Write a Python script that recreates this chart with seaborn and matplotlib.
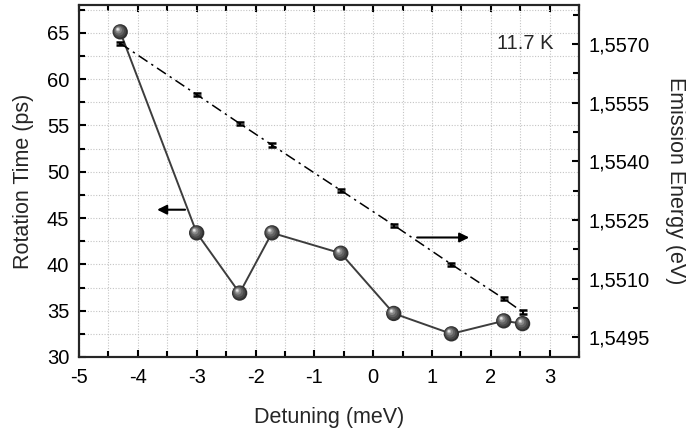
import matplotlib
matplotlib.use("Agg")
import matplotlib.pyplot as plt
import matplotlib.transforms as mtransforms
from matplotlib.ticker import FixedLocator, MultipleLocator, FuncFormatter
import pandas as pd
import seaborn as sns

# Measured quantities versus detuning
detuning = [-4.30, -3.00, -2.27, -1.72, -0.55, 0.35, 1.33, 2.22, 2.54]
rotation_time = [65.1, 43.4, 36.9, 43.4, 41.2, 34.7, 32.5, 33.9, 33.6]
emission_energy = [1.55702, 1.55571, 1.55497, 1.55442, 1.55326,
                   1.55237, 1.55137, 1.55049, 1.55015]
energy_err = [0.00004, 0.00004, 0.00004, 0.00004, 0.00004,
              0.00004, 0.00004, 0.00004, 0.00004]

# Axis ticks
x_ticks = [-5, -4, -3, -2, -1, 0, 1, 2, 3]
time_ticks = [30, 35, 40, 45, 50, 55, 60, 65]
energy_ticks = [1.5495, 1.5510, 1.5525, 1.5540, 1.5555, 1.5570]

df = pd.DataFrame({"detuning": detuning, "time": rotation_time,
                   "energy": emission_energy})

sns.set_theme(style="white")
plt.rcParams["font.family"] = ["Liberation Sans", "DejaVu Sans"]
plt.rcParams["axes.unicode_minus"] = False

fig = plt.figure(figsize=(6.86, 4.30), dpi=100)
ax = fig.add_axes([0.1152, 0.1698, 0.7289, 0.8186])
ax.set_xlim(-5, 3.5)
ax.set_ylim(30, 68)

# dotted grid on every major and minor position
ax.xaxis.set_major_locator(FixedLocator(x_ticks))
ax.xaxis.set_minor_locator(MultipleLocator(0.5))
ax.yaxis.set_major_locator(FixedLocator(time_ticks))
ax.yaxis.set_minor_locator(MultipleLocator(2.5))
ax.grid(True, which="both", color="#c4c4c4", linestyle=(0, (1, 1.5)), linewidth=0.8)
ax.set_axisbelow(True)

# rotation time: solid gray line with shaded spheres
sns.lineplot(data=df, x="detuning", y="time", ax=ax, color="#3d3d3d",
             linewidth=1.4, zorder=3, sort=False)

sphere_layers = [
    (0.0, 0.0, 122, "#303030"),
    (-0.4, 0.4, 82, "#484848"),
    (-0.8, 0.8, 50, "#626262"),
    (-1.2, 1.3, 24, "#868686"),
    (-1.6, 1.7, 8, "#b8b8b8"),
    (-1.8, 1.9, 2.5, "#e8e8e8"),
]
for dx, dy, size, col in sphere_layers:
    tr = ax.transData + mtransforms.ScaledTranslation(dx / 72, dy / 72, fig.dpi_scale_trans)
    sns.scatterplot(data=df, x="detuning", y="time", ax=ax, s=size, color=col,
                    edgecolor="none", linewidth=0, transform=tr, zorder=4, legend=False)

ax.tick_params(which="both", direction="in", top=True, bottom=True, left=True,
               right=False, width=1.5, colors="black", labelsize=14.5)
ax.tick_params(axis="x", which="both", pad=8)
ax.tick_params(axis="y", which="both", pad=7)
ax.tick_params(which="major", length=5)
ax.tick_params(which="minor", length=4)
for sp in ax.spines.values():
    sp.set_linewidth(1.5)
    sp.set_color("black")

ax.set_xlabel("Detuning (meV)", fontsize=15.5, labelpad=14)
ax.set_ylabel("Rotation Time (ps)", fontsize=15.5, labelpad=9)

# emission energy on the right axis
ax2 = ax.twinx()
ax2.set_ylim(1.5490, 1.5580)
sns.lineplot(data=df, x="detuning", y="energy", ax=ax2, color="black",
             linewidth=1.1, linestyle=(0, (7, 3, 1.5, 3)), sort=False)
ax2.errorbar(detuning, emission_energy, yerr=energy_err, fmt="none",
             ecolor="black", elinewidth=1.5, capsize=3, capthick=1.8, zorder=5)
ax2.yaxis.set_major_locator(FixedLocator(energy_ticks))
ax2.yaxis.set_minor_locator(MultipleLocator(0.00075))
ax2.yaxis.set_major_formatter(FuncFormatter(lambda v, p: f"{v:.4f}".replace(".", ",")))
ax2.tick_params(which="both", direction="in", right=True, width=1.5,
                colors="black", labelsize=14.5, pad=7)
ax2.tick_params(which="major", length=5)
ax2.tick_params(which="minor", length=4)
ax2.set_ylabel("Emission Energy (eV)", fontsize=15.5, rotation=270, labelpad=26)
ax2.set_xlabel("")
for sp in ax2.spines.values():
    sp.set_linewidth(1.5)

# direction markers pointing to each series' axis
arrow = dict(arrowstyle="-|>", color="black", lw=1.5, mutation_scale=14)
ax.annotate("", xy=(-3.72, 45.9), xytext=(-3.15, 45.9), arrowprops=arrow, zorder=6)
ax.annotate("", xy=(1.68, 42.9), xytext=(0.70, 42.9), arrowprops=arrow, zorder=6)

ax.text(0.836, 0.892, "11.7 K", transform=ax.transAxes, fontsize=14.5,
        ha="left", va="center")

fig.savefig("out.png", dpi=100)
